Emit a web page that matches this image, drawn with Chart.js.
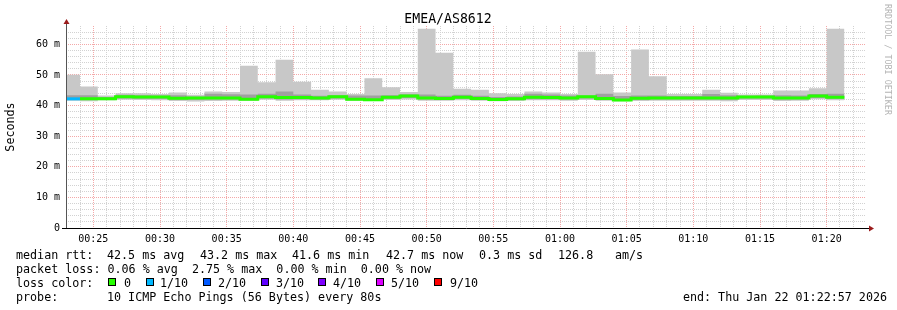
<!DOCTYPE html>
<html>
<head>
<meta charset="utf-8">
<script src="https://cdn.jsdelivr.net/npm/chart.js@4/dist/chart.umd.min.js"></script>
<style>
  body { margin: 0; background: #fff; }
  #wrap { position: relative; width: 897px; height: 310px; font-family: "DejaVu Sans Mono", monospace; color: #000; }
  #c { position: absolute; left: 0; top: 0; }
  .leg { position: absolute; font-size: 11.7px; line-height: 14px; white-space: pre; }
  .sw { position: absolute; width: 6px; height: 6px; border: 1px solid #000; }
  #rrd { position: absolute; left: 883px; top: 4px; writing-mode: vertical-rl; font-size: 8.4px; color: #b4b4b4; white-space: pre; }
</style>
</head>
<body>
<div id="wrap">
  <canvas id="c" width="897" height="310"></canvas>
  <div id="rrd">RRDTOOL / TOBI OETIKER</div>
  <div id="legend"></div>
  <div class="leg" style="right:10px;top:290px">end: Thu Jan 22 01:22:57 2026</div>
</div>
<script>
// start of each 80 s step
const stepTimes = ['00:22:40','00:24:00','00:25:20','00:26:40','00:28:00','00:29:20','00:30:40','00:32:00',
  '00:33:20','00:34:40','00:36:00','00:37:20','00:38:40','00:40:00','00:41:20','00:42:40','00:44:00',
  '00:45:20','00:46:40','00:48:00','00:49:20','00:50:40','00:52:00','00:53:20','00:54:40','00:56:00',
  '00:57:20','00:58:40','01:00:00','01:01:20','01:02:40','01:04:00','01:05:20','01:06:40','01:08:00',
  '01:09:20','01:10:40','01:12:00','01:13:20','01:14:40','01:16:00','01:17:20','01:18:40','01:20:00'];
const lastStepEnd = '01:21:20';

// ms
const pingMax = [50.1,46.2,43.3,44.0,44.0,43.8,44.3,43.5,44.6,44.4,53.0,47.6,55.0,47.8,45.2,44.6,43.8,48.9,46.0,44.4,
  65.1,57.3,45.5,45.2,44.0,43.8,44.6,44.3,43.8,57.6,50.2,44.3,58.3,49.6,43.8,43.8,45.2,44.2,43.6,43.6,44.9,44.9,45.7,65.1];
const pingHigh = [43.4,43.4,42.8,43.5,43.4,43.3,43.4,43.0,43.9,43.7,43.6,43.9,44.6,43.6,43.2,43.4,43.3,43.3,43.4,43.7,
  43.6,43.2,43.5,43.2,42.8,43.0,43.9,43.6,43.3,43.3,43.9,43.1,43.3,43.3,43.1,43.1,43.8,43.4,43.2,43.3,43.4,43.3,43.8,43.9];
const median = [42.2,42.2,42.2,42.9,42.8,42.8,42.4,42.5,42.5,42.5,42.1,42.9,42.6,42.6,42.5,42.9,42.1,41.9,42.7,43.1,
  42.5,42.3,42.7,42.3,42.0,42.2,42.7,42.6,42.5,42.9,42.3,41.8,42.4,42.5,42.5,42.5,42.5,42.5,42.8,42.8,42.5,42.5,43.1,42.7];
const pingLow = [41.9,41.8,41.9,42.3,42.2,42.2,41.9,41.9,42.0,42.0,41.8,42.3,42.0,42.1,42.0,42.3,41.8,41.6,42.2,42.5,
  42.0,41.9,42.2,41.9,41.7,41.8,42.1,42.1,42.0,42.3,41.9,41.5,41.9,42.0,42.0,42.0,42.0,41.9,42.3,42.3,42.0,42.0,42.5,42.2];
const pingMin = [41.6,41.4,41.7,41.9,41.8,41.7,41.5,41.3,41.5,41.6,41.6,41.9,41.6,41.7,41.7,41.9,41.6,41.5,41.8,42.0,
  41.6,41.6,41.7,41.6,41.4,41.5,41.7,41.7,41.6,41.8,41.6,41.4,41.5,41.6,41.6,41.6,41.6,41.4,41.8,41.8,41.5,41.6,42.1,41.7];
// lost pings out of 10
const lost = [1,0,0,0,0,0,0,0,0,0,0,0,0,0,0,0,0,0,0,0,0,0,0,0,0,0,0,0,0,0,0,0,0,0,0,0,0,0,0,0,0,0,0,0];

const lossLabels = ['0','1/10','2/10','3/10','4/10','5/10','9/10'];
const lossColors = ['#26ff00','#00b8ff','#0059ff','#5e00ff','#7e00ff','#dd00ff','#ff0000'];
const yTickLabels = {0:'0',10:'10 m',20:'20 m',30:'30 m',40:'40 m',50:'50 m',60:'60 m'};

const legendRows = [
  {top: 248, items: [[16,'median rtt:'],[107,'42.5 ms avg'],[200,'43.2 ms max'],[292,'41.6 ms min'],
    [386,'42.7 ms now'],[479,'0.3 ms sd'],[558,'126.8'],[615,'am/s']]},
  {top: 262, items: [[16,'packet loss: 0.06 % avg  2.75 % max  0.00 % min  0.00 % now']]},
  {top: 276, items: [[16,'loss color:']]},
  {top: 290, items: [[16,'probe:'],[107,'10 ICMP Echo Pings (56 Bytes) every 80s']]}
];

const viewStart = '00:22:57';
const viewEnd = '01:22:57';

function toMin(s) {
  const p = s.split(':').map(Number);
  return p[0]*60 + p[1] + (p[2]||0)/60;
}
function pts(arr) {
  const out = stepTimes.map((t,i) => ({x: toMin(t), y: arr[i]}));
  out.push({x: toMin(lastStepEnd), y: arr[arr.length-1]});
  return out;
}
function lossColor(n) {
  if (n >= 9) return lossColors[6];
  return lossColors[Math.min(n,5)];
}
function hhmm(v) {
  const h = Math.floor(v/60), m = Math.round(v%60);
  return String(h).padStart(2,'0') + ':' + String(m).padStart(2,'0');
}

// legend text + loss colour swatches
const leg = document.getElementById('legend');
function addText(x, y, s) {
  const t = document.createElement('div');
  t.className = 'leg'; t.textContent = s;
  t.style.left = x + 'px'; t.style.top = y + 'px';
  leg.appendChild(t);
}
legendRows.forEach(r => r.items.forEach(it => addText(it[0], r.top, it[1])));
const swX = [108,146,203,261,318,376,434];
const txX = [124,160,218,276,333,391,450];
lossLabels.forEach((l,i) => {
  const b = document.createElement('div');
  b.className = 'sw';
  b.style.left = swX[i] + 'px'; b.style.top = '278px'; b.style.background = lossColors[i];
  leg.appendChild(b);
  addText(txX[i], 276, l);
});

const base = {type: 'line', pointRadius: 0, borderWidth: 0, stepped: true, fill: false};
const minorGrid = '#d2d2d2', majorGrid = '#f4a8a8';

const axisArrows = {
  id: 'axisArrows',
  afterDraw(chart) {
    const {ctx, chartArea: a} = chart;
    ctx.save();
    ctx.strokeStyle = '#555';
    ctx.lineWidth = 1;
    ctx.beginPath(); ctx.moveTo(a.left + 0.5, a.bottom); ctx.lineTo(a.left + 0.5, a.top - 3); ctx.stroke();
    ctx.strokeStyle = '#000';
    ctx.beginPath(); ctx.moveTo(a.left - 4, a.bottom + 0.5); ctx.lineTo(a.right + 5, a.bottom + 0.5); ctx.stroke();
    ctx.fillStyle = '#9b1c1c';
    ctx.beginPath(); ctx.moveTo(a.right + 3, a.bottom - 2.5); ctx.lineTo(a.right + 8, a.bottom + 0.5); ctx.lineTo(a.right + 3, a.bottom + 3.5); ctx.fill();
    ctx.beginPath(); ctx.moveTo(a.left - 2.5, a.top - 2); ctx.lineTo(a.left + 0.5, a.top - 7); ctx.lineTo(a.left + 3.5, a.top - 2); ctx.fill();
    ctx.font = '13.2px "DejaVu Sans Mono"';
    ctx.fillStyle = '#000';
    ctx.textAlign = 'center';
    ctx.textBaseline = 'middle';
    ctx.fillText('EMEA/AS8612', 448, 20);
    ctx.restore();
  }
};

// dataset 0 is drawn last (on top)
new Chart(document.getElementById('c'), {
  type: 'line',
  data: {
    datasets: [
      {...base, data: pts(median), borderWidth: 3, borderCapStyle: 'butt',
        segment: {borderColor: ctx => lossColor(lost[ctx.p0DataIndex] || 0)}},
      {...base, data: pts(pingHigh), fill: '+1', backgroundColor: '#a0a0a0'},
      {...base, data: pts(pingLow)},
      {...base, data: pts(pingMax), fill: '+1', backgroundColor: '#c8c8c8'},
      {...base, data: pts(pingMin)}
    ]
  },
  options: {
    responsive: false,
    animation: false,
    events: [],
    layout: {padding: {left: 0, right: 31, top: 26, bottom: 62}},
    plugins: {
      legend: {display: false},
      tooltip: {enabled: false},
      title: {display: false}
    },
    scales: {
      x: {
        type: 'linear',
        min: toMin(viewStart),
        max: toMin(viewEnd),
        afterBuildTicks: s => {
          const t = [];
          for (let m = Math.ceil(s.min); m <= s.max; m++) t.push({value: m});
          s.ticks = t;
        },
        afterFit: s => { s.height = 20; },
        grid: {
          color: c => (c.tick && c.tick.value % 5 === 0) ? majorGrid : minorGrid,
          drawTicks: false
        },
        border: {display: false, dash: [1, 1]},
        ticks: {
          autoSkip: false, maxRotation: 0, padding: 5, color: '#000',
          font: {family: 'DejaVu Sans Mono', size: 10},
          callback: v => v % 5 === 0 ? hhmm(v) : ''
        }
      },
      y: {
        min: 0,
        max: 66,
        afterBuildTicks: s => {
          const t = [];
          for (let v = 0; v <= 64; v += 2) t.push({value: v});
          s.ticks = t;
        },
        afterFit: s => { s.width = 66; },
        grid: {
          color: c => (c.tick && c.tick.value % 10 === 0 && c.tick.value > 0) ? majorGrid : minorGrid,
          drawTicks: false
        },
        border: {display: false, dash: [1, 1]},
        title: {display: true, text: 'Seconds', color: '#000', padding: {top: 4, bottom: 0},
          font: {family: 'DejaVu Sans Mono', size: 11.7}},
        ticks: {
          autoSkip: false, padding: 6, color: '#000',
          font: {family: 'DejaVu Sans Mono', size: 10},
          callback: v => yTickLabels[v] !== undefined ? yTickLabels[v] : ''
        }
      }
    }
  },
  plugins: [axisArrows]
});
</script>
</body>
</html>
